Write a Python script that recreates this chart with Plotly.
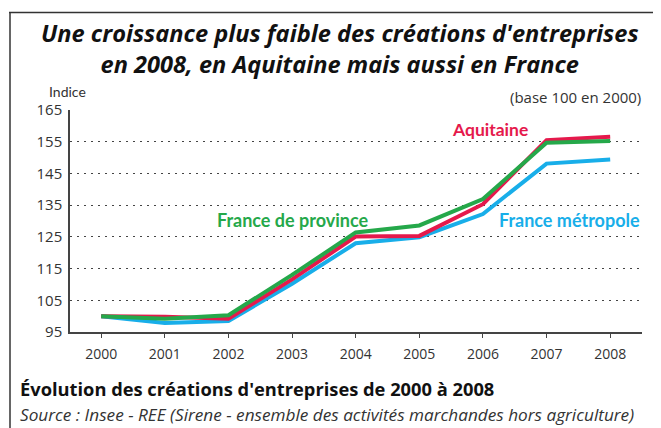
import plotly.graph_objects as go

years = [2000, 2001, 2002, 2003, 2004, 2005, 2006, 2007, 2008]
aquitaine = [100, 99.8, 99.2, 111.6, 125.1, 125.3, 135.3, 155.5, 156.6]
province = [100, 99.2, 100.3, 113.0, 126.4, 128.6, 136.9, 154.7, 155.2]
metropole = [100, 97.85, 98.5, 110.2, 123.0, 124.9, 132.2, 148.1, 149.4]
y_ticks = [95, 105, 115, 125, 135, 145, 155, 165]

RED = "#E5194C"
GREEN = "#25A84A"
BLUE = "#18AEE9"
LATO = "Lato"
OPEN = "Open Sans"

OFF = 8  # page body margin
W, H = 661 - OFF, 428 - OFF
# plot area in page pixels
L, R, T, B = 70, 642, 110, 332


def px(x):
    return (x - L) / (R - L)


def py(y):
    return (B - y) / (B - T)


fig = go.Figure()
for name, vals, col in [("France métropole", metropole, BLUE),
                        ("Aquitaine", aquitaine, RED),
                        ("France de province", province, GREEN)]:
    fig.add_trace(go.Scatter(x=years, y=vals, mode="lines", name=name,
                             line=dict(color=col, width=4), showlegend=False))

ann = []


def text(x, y, t, size, color="#222", xanchor="center", weight="normal", style="normal", family=OPEN):
    ann.append(dict(x=px(x), y=py(y), xref="paper", yref="paper", text=t,
                    showarrow=False, xanchor=xanchor, yanchor="middle", borderpad=0,
                    font=dict(family=family, size=size, color=color, weight=weight, style=style)))


text(340, 48.5, "Une croissance plus faible des créations d'entreprises<br>"
     "en 2008, en Aquitaine mais aussi en France", 23.6, "#111", weight="bold", style="italic")
text(67, 91, "Indice", 14, "#333", family=LATO)
text(642, 97, "(base 100 en 2000)", 15, "#333", xanchor="right")
text(490, 129, "Aquitaine", 17.5, RED, weight="bold", family=LATO)
text(293, 220, "France de province", 18, GREEN, weight="bold", family=LATO)
text(569, 220, "France métropole", 18, BLUE, weight="bold", family=LATO)
text(19, 388, "Évolution des créations d'entreprises de 2000 à 2008", 18.3, "#111", xanchor="left", weight="bold")
text(19, 414, "Source : Insee - REE (Sirene - ensemble des activités marchandes hors agriculture)", 17.2, "#333", xanchor="left", style="italic")

shapes = [
    dict(type="line", xref="paper", yref="paper", x0=px(9), x1=px(680), y0=py(12.5), y1=py(12.5),
         line=dict(color="#333", width=1.5)),
    dict(type="line", xref="paper", yref="paper", x0=px(10), x1=px(10), y0=py(12.5), y1=py(440),
         line=dict(color="#333", width=1.5)),
]

fig.update_layout(
    width=W, height=H,
    margin=dict(l=L - OFF, r=661 - R, t=T - OFF, b=428 - B),
    paper_bgcolor="white", plot_bgcolor="white",
    annotations=ann, shapes=shapes,
    font=dict(family=OPEN, size=14, color="#333"),
    xaxis=dict(range=[1999.51, 2008.5], tickvals=years, ticktext=[str(y) for y in years],
               showgrid=False, zeroline=False, showline=True, linecolor="#444", linewidth=1.5,
               ticks="outside", ticklen=4, tickcolor="#444", tickwidth=1.2, ticklabelstandoff=4,
               tickfont=dict(family=OPEN, size=14, color="#333"), fixedrange=True),
    yaxis=dict(range=[95, 165], tickvals=y_ticks, showgrid=True, gridcolor="#444", gridwidth=1.2,
               griddash="2px,5px", zeroline=False, showline=True, linecolor="#444", linewidth=1.5,
               ticks="", ticklabelstandoff=3,
               tickfont=dict(family=OPEN, size=15, color="#333"), fixedrange=True),
)

fig.write_html("out.html")
